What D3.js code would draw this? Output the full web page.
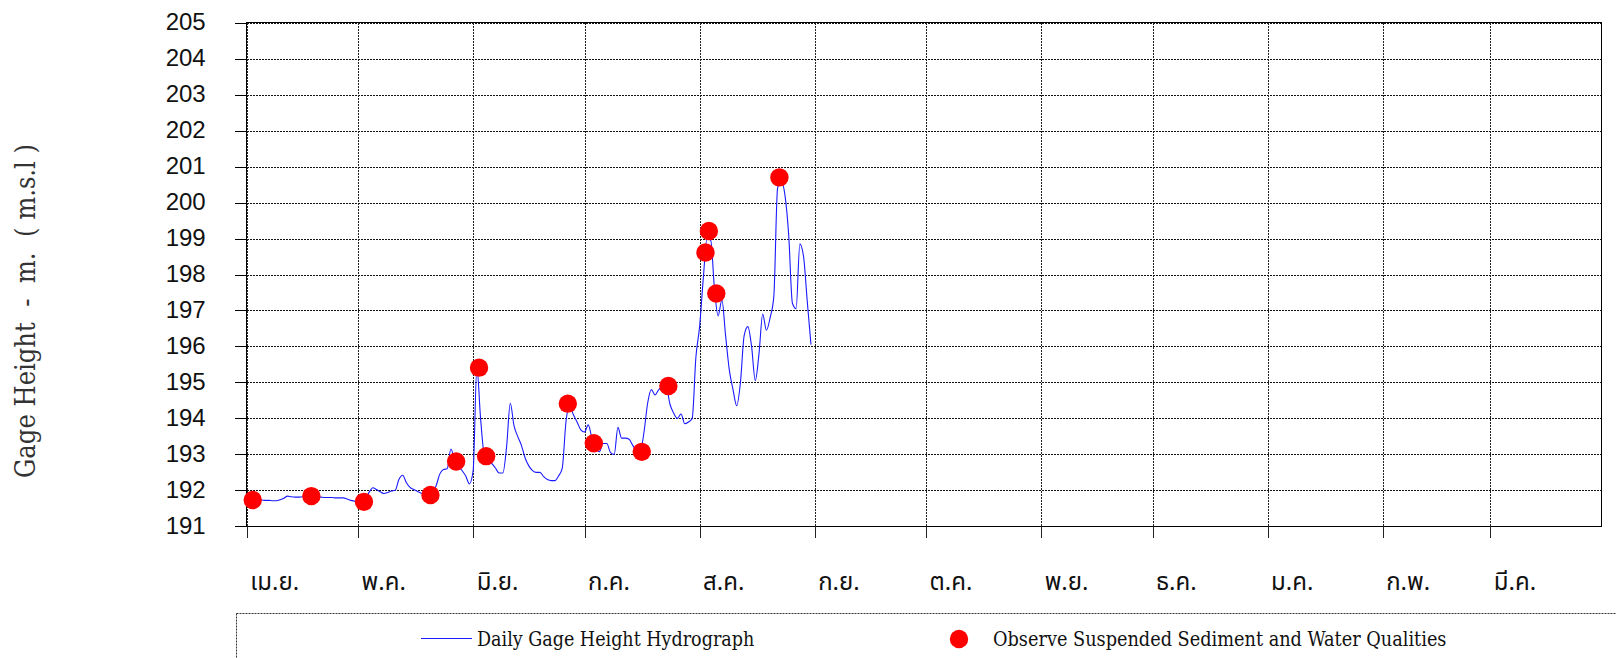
<!DOCTYPE html>
<html>
<head>
<meta charset="utf-8">
<script src="https://cdn.jsdelivr.net/npm/d3@7"></script>
<style>
  html, body { margin: 0; padding: 0; background: #fff; }
  svg { display: block; }
</style>
</head>
<body>
<svg id="chart" width="1616" height="658"></svg>
<script>
// ---------------- DATA ----------------
const monthLabels = ["เม.ย.", "พ.ค.", "มิ.ย.", "ก.ค.", "ส.ค.", "ก.ย.", "ต.ค.", "พ.ย.", "ธ.ค.", "ม.ค.", "ก.พ.", "มี.ค."];
const monthStarts = ["2023-04-01", "2023-05-01", "2023-06-01", "2023-07-01", "2023-08-01", "2023-09-01",
                     "2023-10-01", "2023-11-01", "2023-12-01", "2024-01-01", "2024-02-01", "2024-03-01"];
const yTickValues = [191, 192, 193, 194, 195, 196, 197, 198, 199, 200, 201, 202, 203, 204, 205];

const seriesStart = "2023-04-01";
// Daily Gage Height (m. msl), one value per day from 1 April
const gageHeight = [
  191.70, 191.72, 191.73, 191.73, 191.73, 191.72, 191.72, 191.71, 191.71, 191.74,
  191.78, 191.84, 191.82, 191.81, 191.81, 191.82, 191.83, 191.84, 191.83, 191.82,
  191.81, 191.80, 191.80, 191.80, 191.79, 191.79, 191.79, 191.76, 191.72, 191.70,
  191.69, 191.68, 191.75, 191.95, 192.07, 192.02, 191.96, 191.91, 191.94, 191.98,
  192.00, 192.30, 192.42, 192.22, 192.08, 192.02, 191.97, 191.92, 191.90, 191.88,
  191.95, 192.12, 192.45, 192.58, 192.60, 193.15, 192.85, 192.70, 192.55, 192.40,
  192.18, 192.55, 195.42, 194.00, 193.00, 192.88, 192.75, 192.62, 192.48, 192.48,
  193.20, 194.42, 193.80, 193.50, 193.25, 192.90, 192.68, 192.55, 192.50, 192.50,
  192.38, 192.30, 192.27, 192.27, 192.40, 192.62, 193.90, 194.35, 194.10, 193.90,
  193.68, 193.62, 193.82, 193.45, 193.20, 193.07, 193.30, 193.30, 193.05, 193.00,
  193.75, 193.45, 193.45, 193.42, 193.25, 193.10, 193.08, 193.60, 194.42, 194.80,
  194.65, 194.80, 194.88, 194.90, 194.40, 194.15, 194.00, 194.12, 193.85, 193.90,
  194.00, 195.70, 196.55, 197.90, 199.00, 198.95, 197.60, 196.85, 197.30, 196.30,
  195.35, 194.80, 194.35, 195.00, 196.30, 196.55, 196.00, 195.05, 195.80, 196.90,
  196.45, 196.80, 197.40, 200.40, 200.60, 200.20, 199.10, 197.20, 197.05, 198.85,
  198.50, 197.25, 196.05
];

// Observation dates of suspended sediment / water quality sampling
const obsDates = ["2023-04-02 15:00", "2023-04-18 10:00", "2023-05-02 14:00", "2023-05-20 12:00",
                  "2023-05-27 10:00", "2023-06-02 14:00", "2023-06-04 12:00", "2023-06-26 12:00",
                  "2023-07-03 12:00", "2023-07-16 10:00", "2023-07-23 14:00", "2023-08-02 14:00",
                  "2023-08-03 12:00", "2023-08-05 12:00", "2023-08-22 12:00"];
const obsValues = [191.73, 191.84, 191.68, 191.87, 192.80, 195.41, 192.95, 194.41,
                   193.31, 193.07, 194.90, 198.61, 199.21, 197.47, 200.70];

const yTitle = "Gage Height  -  m.  ( m.s.l )";
const legendLineLabel = "Daily Gage Height Hydrograph";
const legendDotLabel = "Observe Suspended Sediment and Water Qualities";

// ---------------- LAYOUT ----------------
const L = 246.7, R = 1601.7, T = 22.7, B = 526.3;
const svg = d3.select("#chart");

const parseDay = d3.utcParse("%Y-%m-%d");
const parseTime = d3.utcParse("%Y-%m-%d %H:%M");

const x = d3.scaleUtc()
  .domain([parseDay("2023-04-01"), parseDay("2024-03-31")])
  .range([L, R]);
const y = d3.scaleLinear().domain([191, 205]).range([B, T]);

const start = parseDay(seriesStart);
const daily = gageHeight.map((v, i) => ({ date: d3.utcDay.offset(start, i), value: v }));
const obs = obsDates.map((d, i) => ({ date: parseTime(d), value: obsValues[i] }));
const monthDates = monthStarts.map(parseDay);

// horizontal grid
const gy = svg.append("g").attr("transform", `translate(${L},0)`)
  .call(d3.axisLeft(y).tickValues(yTickValues).tickSize(-(R - L)).tickFormat(""));
gy.select(".domain").remove();
gy.selectAll("line").attr("stroke", "#111").attr("stroke-dasharray", "2,1").attr("shape-rendering", "crispEdges");

// vertical grid
const gx = svg.append("g").attr("transform", `translate(0,${B})`)
  .call(d3.axisBottom(x).tickValues(monthDates).tickSize(-(B - T)).tickFormat(""));
gx.select(".domain").remove();
gx.selectAll("line").attr("stroke", "#222").attr("stroke-dasharray", "2,1").attr("shape-rendering", "crispEdges");

// frame
svg.append("rect").attr("x", L).attr("y", T).attr("width", R - L).attr("height", B - T)
  .attr("fill", "none").attr("stroke", "#000").attr("stroke-width", 1).attr("shape-rendering", "crispEdges");

// y axis ticks + labels
const ya = svg.append("g").attr("transform", `translate(${L},0)`)
  .call(d3.axisLeft(y).tickValues(yTickValues).tickSize(12).tickPadding(29).tickFormat(d3.format("d")));
ya.select(".domain").remove();
ya.selectAll("line").attr("stroke", "#000").attr("shape-rendering", "crispEdges");
ya.selectAll("text").attr("font-family", "'Liberation Sans', Arial, sans-serif")
  .attr("font-size", 24).attr("fill", "#111").attr("dy", "0.3em");

// x axis ticks + labels
const xa = svg.append("g").attr("transform", `translate(0,${B})`)
  .call(d3.axisBottom(x).tickValues(monthDates).tickSize(12).tickFormat((d, i) => monthLabels[i]));
xa.select(".domain").remove();
xa.selectAll("line").attr("stroke", "#222").attr("shape-rendering", "crispEdges");
xa.selectAll("text").attr("font-family", "'Noto Sans Thai', 'Noto Sans', 'DejaVu Sans', sans-serif")
  .attr("font-size", 24).attr("fill", "#111").attr("text-anchor", "start")
  .attr("dx", 3).attr("y", 55).attr("dy", "0.35em");

// y title
svg.append("text")
  .attr("transform", `translate(25,311) rotate(-90)`)
  .attr("text-anchor", "middle").attr("dominant-baseline", "central")
  .attr("font-family", "'DejaVu Serif', serif").attr("font-stretch", "condensed")
  .attr("font-size", 27).attr("fill", "#333").attr("font-weight", 300)
  .attr("xml:space", "preserve").style("white-space", "pre")
  .text(yTitle);

// line
const line = d3.line().x(d => x(d.date)).y(d => y(d.value)).curve(d3.curveMonotoneX);
svg.append("path").datum(daily).attr("d", line)
  .attr("fill", "none").attr("stroke", "#1a1aff").attr("stroke-width", 1.1);

// observations
svg.append("g").selectAll("circle").data(obs).join("circle")
  .attr("cx", d => x(d.date)).attr("cy", d => y(d.value)).attr("r", 9.2)
  .attr("fill", "#ff0000");

// legend
const lg = svg.append("g");
lg.append("rect").attr("x", 236.5).attr("y", 613.5).attr("width", 1500).attr("height", 100)
  .attr("fill", "none").attr("stroke", "#333").attr("stroke-dasharray", "2,1");
lg.append("line").attr("x1", 421).attr("x2", 472).attr("y1", 638.5).attr("y2", 638.5)
  .attr("stroke", "#1a1aff").attr("stroke-width", 1.1);
lg.append("text").attr("x", 477).attr("y", 639).attr("dominant-baseline", "central")
  .attr("font-family", "'DejaVu Serif', serif").attr("font-stretch", "condensed")
  .attr("font-size", 19.5).attr("fill", "#111").text(legendLineLabel);
lg.append("circle").attr("cx", 959).attr("cy", 639).attr("r", 9.2).attr("fill", "#ff0000");
lg.append("text").attr("x", 993).attr("y", 639).attr("dominant-baseline", "central")
  .attr("font-family", "'DejaVu Serif', serif").attr("font-stretch", "condensed")
  .attr("font-size", 19.7).attr("fill", "#111").text(legendDotLabel);
</script>
</body>
</html>
